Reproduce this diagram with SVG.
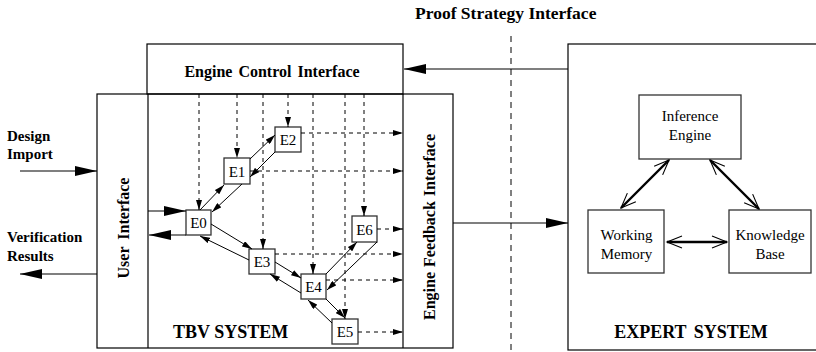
<svg xmlns="http://www.w3.org/2000/svg" width="816" height="352" viewBox="0 0 816 352">
<defs>
<style>
.frame{fill:none;stroke:#000;stroke-width:1.2}
.box{fill:#fff;stroke:#333;stroke-width:1.3}
.solid{stroke:#000;stroke-width:1;fill:none}
.dash{stroke:#000;stroke-width:1;fill:none;stroke-dasharray:4,4}
.big{stroke:#000;stroke-width:1.2;fill:none;marker-end:url(#big)}
.thick{stroke:#000;stroke-width:2.4;fill:none;marker-start:url(#open);marker-end:url(#open)}
.b{font-family:"Liberation Serif","Times New Roman",serif;font-weight:bold;fill:#000}
.r{font-family:"Liberation Serif","Times New Roman",serif;font-weight:normal;font-style:normal;font-size:15px;fill:#000}
</style>
<marker id="big" markerUnits="userSpaceOnUse" markerWidth="22" markerHeight="10" refX="22" refY="5" orient="auto"><path d="M0,0 L22,5 L0,10 z" fill="#000"/></marker>
<marker id="sm" markerUnits="userSpaceOnUse" markerWidth="10" markerHeight="6" refX="10" refY="3" orient="auto"><path d="M0,0 L10,3 L0,6 z" fill="#000"/></marker>
<marker id="open" markerUnits="userSpaceOnUse" markerWidth="18" markerHeight="14" refX="16" refY="7" orient="auto-start-reverse"><path d="M1,1 L16,7 L1,13" fill="none" stroke="#000" stroke-width="1.1"/></marker>
</defs>
<rect width="816" height="352" fill="#fff"/>

<g id="proof-strategy">
<line x1="511" y1="36" x2="511" y2="352" stroke="#000" stroke-width="1" stroke-dasharray="6,5"/>
<text class="b" x="415" y="19" font-size="17.5">Proof Strategy Interface</text>
</g>

<g id="tbv-system">
<rect class="frame" x="97" y="94" width="356" height="254"/>
<line class="frame" x1="148" y1="94" x2="148" y2="348"/>
<line class="frame" x1="403" y1="94" x2="403" y2="348"/>
<text class="b" x="173" y="338" font-size="18">TBV SYSTEM</text>
</g>

<g id="engine-control-interface">
<rect class="frame" x="147" y="44" width="256" height="50"/>
<text class="b" x="272" y="77" font-size="16" text-anchor="middle" word-spacing="2">Engine Control Interface</text>
</g>

<g id="user-interface">
<text class="b" font-size="16" text-anchor="middle" transform="translate(129,228) rotate(-90)" word-spacing="3">User Interface</text>
</g>

<g id="engine-feedback-interface">
<text class="b" font-size="16" text-anchor="middle" transform="translate(435,227) rotate(-90)" word-spacing="1">Engine Feedback Interface</text>
</g>

<g id="design-import">
<text class="b" font-size="15" x="7" y="141">Design</text>
<text class="b" font-size="15" x="7" y="159">Import</text>
</g>
<g id="verification-results">
<text class="b" font-size="15" x="7" y="242">Verification</text>
<text class="b" font-size="15" x="7" y="261">Results</text>
</g>

<g id="E0"><rect class="box" x="186" y="210" width="25" height="25"/><text class="r" x="198.5" y="228" text-anchor="middle">E0</text></g>
<g id="E1"><rect class="box" x="224" y="158" width="26" height="26"/><text class="r" x="237" y="176.5" text-anchor="middle">E1</text></g>
<g id="E2"><rect class="box" x="275" y="127" width="26" height="25"/><text class="r" x="288" y="145" text-anchor="middle">E2</text></g>
<g id="E3"><rect class="box" x="249" y="249" width="26" height="25"/><text class="r" x="262" y="267" text-anchor="middle">E3</text></g>
<g id="E4"><rect class="box" x="301" y="274" width="25" height="25"/><text class="r" x="313.5" y="292" text-anchor="middle">E4</text></g>
<g id="E5"><rect class="box" x="332" y="319" width="26" height="25"/><text class="r" x="345" y="337" text-anchor="middle">E5</text></g>
<g id="E6"><rect class="box" x="352" y="216" width="25" height="26"/><text class="r" x="364.5" y="234.5" text-anchor="middle">E6</text></g>

<g id="expert-system">
<rect class="frame" x="568" y="44" width="260" height="306"/>
<text class="b" x="691" y="338" font-size="18" text-anchor="middle" word-spacing="3">EXPERT SYSTEM</text>
</g>
<g id="inference-engine">
<rect class="box" x="639" y="95" width="102" height="64"/>
<text class="r" x="690" y="121" text-anchor="middle">Inference</text>
<text class="r" x="690" y="139.5" text-anchor="middle">Engine</text>
</g>
<g id="working-memory">
<rect class="box" x="588" y="210" width="76" height="63"/>
<text class="r" x="626.5" y="240" text-anchor="middle">Working</text>
<text class="r" x="626.5" y="259" text-anchor="middle">Memory</text>
</g>
<g id="knowledge-base">
<rect class="box" x="729" y="210" width="82" height="63"/>
<text class="r" x="770" y="240" text-anchor="middle">Knowledge</text>
<text class="r" x="770" y="259" text-anchor="middle">Base</text>
</g>

<g id="connectors">
<line class="big" x1="20" y1="171" x2="97" y2="171"/>
<line class="big" x1="97" y1="274" x2="20" y2="274"/>
<line class="big" x1="148" y1="211" x2="186" y2="211"/>
<line class="big" x1="186" y1="235" x2="149" y2="235"/>
<line class="big" x1="568" y1="69" x2="404" y2="69"/>
<line class="big" x1="453" y1="223" x2="568" y2="223"/>

<g class="dash" marker-end="url(#sm)">
<line x1="199" y1="94" x2="199" y2="210"/>
<line x1="237" y1="94" x2="237" y2="158"/>
<line x1="263" y1="94" x2="263" y2="249"/>
<line x1="288" y1="94" x2="288" y2="127"/>
<line x1="313" y1="94" x2="313" y2="274"/>
<line x1="345" y1="94" x2="345" y2="319"/>
<line x1="364" y1="94" x2="364" y2="216"/>
<line x1="301" y1="133" x2="403" y2="133"/>
<line x1="250" y1="171" x2="403" y2="171"/>
<line x1="377" y1="229" x2="403" y2="229"/>
<line x1="275" y1="254" x2="403" y2="254"/>
<line x1="326" y1="280" x2="403" y2="280"/>
<line x1="358" y1="332" x2="403" y2="332"/>
</g>

<g class="solid" marker-end="url(#sm)">
<line x1="200" y1="210" x2="224" y2="185"/>
<line x1="242" y1="184" x2="212" y2="212"/>
<line x1="250" y1="159" x2="275" y2="135"/>
<line x1="275" y1="152" x2="250" y2="177"/>
<line x1="211" y1="224" x2="252" y2="249"/>
<line x1="249" y1="260" x2="200" y2="236"/>
<line x1="275" y1="262" x2="301" y2="278"/>
<line x1="301" y1="293" x2="270" y2="274"/>
<line x1="326" y1="274" x2="357" y2="242"/>
<line x1="377" y1="242" x2="327" y2="290"/>
<line x1="326" y1="299" x2="345" y2="318"/>
<line x1="332" y1="323" x2="308" y2="300"/>
</g>

<line class="thick" x1="669" y1="160" x2="621" y2="208"/>
<line class="thick" x1="710" y1="160" x2="759" y2="209"/>
<line class="thick" x1="667" y1="242" x2="727" y2="242"/>
</g>
</svg>
